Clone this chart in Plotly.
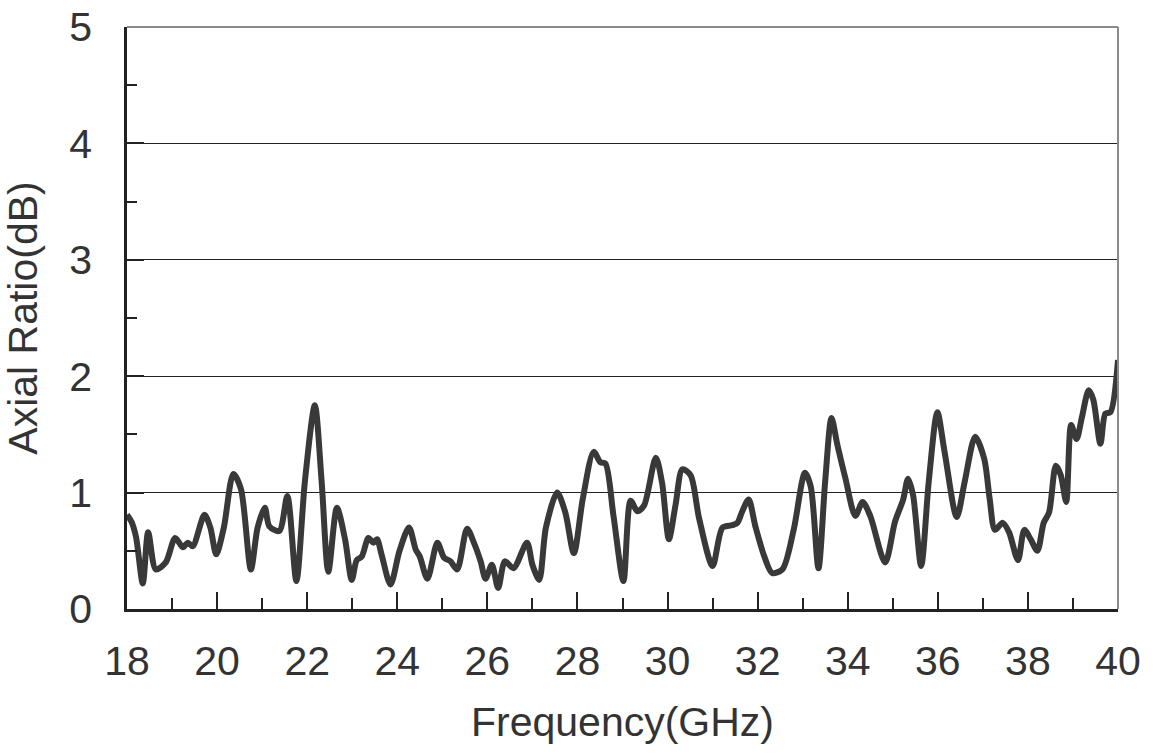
import plotly.graph_objects as go

freq = [18.00, 18.10, 18.20, 18.35, 18.47, 18.64, 18.86, 19.07, 19.24, 19.35, 19.46, 19.72, 19.85, 19.98,
        20.15, 20.36, 20.53, 20.75, 20.90, 21.06, 21.16, 21.38, 21.56, 21.76, 21.95, 22.17, 22.32, 22.47,
        22.66, 22.84, 22.99, 23.10, 23.21, 23.36, 23.47, 23.55, 23.65, 23.85, 24.05, 24.26, 24.41, 24.50,
        24.67, 24.89, 25.04, 25.18, 25.33, 25.55, 25.70, 25.85, 25.96, 26.10, 26.24, 26.39, 26.58, 26.88,
        27.00, 27.15, 27.30, 27.55, 27.73, 27.92, 28.12, 28.36, 28.51, 28.62, 28.80, 29.02, 29.18, 29.33,
        29.48, 29.74, 29.88, 30.03, 30.18, 30.33, 30.51, 30.70, 31.00, 31.22, 31.44, 31.55, 31.66, 31.80,
        31.95, 32.15, 32.32, 32.55, 32.80, 33.05, 33.18, 33.35, 33.50, 33.64, 33.77, 33.95, 34.17, 34.33,
        34.50, 34.83, 35.05, 35.23, 35.34, 35.45, 35.63, 35.80, 35.99, 36.15, 36.42, 36.60, 36.83, 37.03,
        37.15, 37.27, 37.44, 37.58, 37.78, 37.92, 38.06, 38.21, 38.35, 38.47, 38.62, 38.73, 38.85, 38.96,
        39.08, 39.20, 39.35, 39.45, 39.61, 39.72, 39.83, 40.00]
axial_ratio = [0.81, 0.75, 0.62, 0.22, 0.66, 0.34, 0.40, 0.61, 0.53, 0.57, 0.54, 0.81, 0.70, 0.47,
               0.70, 1.16, 1.03, 0.34, 0.70, 0.87, 0.71, 0.67, 0.97, 0.24, 1.10, 1.75, 1.10, 0.32,
               0.87, 0.60, 0.25, 0.42, 0.45, 0.61, 0.57, 0.60, 0.47, 0.21, 0.50, 0.70, 0.51, 0.45,
               0.26, 0.57, 0.44, 0.41, 0.34, 0.69, 0.57, 0.41, 0.26, 0.38, 0.18, 0.41, 0.35, 0.57,
               0.38, 0.25, 0.70, 1.00, 0.83, 0.48, 0.95, 1.35, 1.26, 1.25, 0.80, 0.24, 0.93, 0.84,
               0.89, 1.30, 1.08, 0.60, 0.90, 1.20, 1.15, 0.78, 0.37, 0.70, 0.72, 0.74, 0.84, 0.94,
               0.71, 0.45, 0.31, 0.34, 0.68, 1.17, 1.05, 0.35, 1.10, 1.64, 1.41, 1.12, 0.80, 0.92,
               0.80, 0.40, 0.75, 0.94, 1.12, 0.98, 0.37, 1.10, 1.69, 1.35, 0.79, 1.10, 1.48, 1.29,
               0.95, 0.68, 0.74, 0.66, 0.42, 0.68, 0.60, 0.50, 0.74, 0.83, 1.23, 1.15, 0.92, 1.58,
               1.46, 1.65, 1.88, 1.80, 1.42, 1.68, 1.69, 2.14]

x_range = [18, 40]
y_range = [0, 5]
x_tickvals = [18, 20, 22, 24, 26, 28, 30, 32, 34, 36, 38, 40]
y_tickvals = [0, 1, 2, 3, 4, 5]

FONT = "Liberation Sans, Arial, sans-serif"
TXT = "#333333"

fig = go.Figure()
fig.add_trace(go.Scatter(
    x=freq, y=axial_ratio, mode="lines",
    line=dict(color="#393939", width=6, shape="spline", smoothing=0.8),
    showlegend=False, cliponaxis=True,
))

fig.update_layout(
    width=1153, height=756,
    margin=dict(l=127, r=35, t=27, b=147),
    paper_bgcolor="white", plot_bgcolor="white",
    font=dict(family=FONT, size=41, color=TXT),
    xaxis=dict(
        range=x_range, tickvals=x_tickvals, ticks="inside", ticklen=17, tickwidth=1.5,
        tickcolor="#222", showline=True, linecolor="#222", linewidth=2.5,
        showgrid=False, zeroline=False, ticklabelstandoff=14, automargin=False,
        ticklabeloverflow="allow",
        minor=dict(dtick=1, tick0=18, ticks="inside", ticklen=11, tickwidth=1.5, tickcolor="#222", showgrid=False),
        title=dict(text="Frequency(GHz)", standoff=25, font=dict(size=41, color=TXT)),
    ),
    yaxis=dict(
        range=y_range, tickvals=y_tickvals, ticks="inside", ticklen=17, tickwidth=1.5,
        tickcolor="#222", showline=True, linecolor="#222", linewidth=2.5,
        showgrid=True, gridcolor="#222", gridwidth=1.3, zeroline=False, ticklabelstandoff=24,
        automargin=False, ticklabeloverflow="allow",
        minor=dict(dtick=0.5, tick0=0, ticks="inside", ticklen=10, tickwidth=1.5, tickcolor="#222", showgrid=False),
        title=dict(text="Axial Ratio(dB)", standoff=30, font=dict(size=41, color=TXT)),
    ),
    shapes=[
        dict(type="line", xref="paper", yref="paper", x0=0, x1=1, y0=1, y1=1,
             line=dict(color="#8a8a8a", width=2), layer="above"),
        dict(type="line", xref="paper", yref="paper", x0=1, x1=1, y0=0, y1=1,
             line=dict(color="#8a8a8a", width=2), layer="above"),
    ],
)

fig.write_html("out.html", config={"displayModeBar": False},
               post_script="document.body.style.margin='0';")
